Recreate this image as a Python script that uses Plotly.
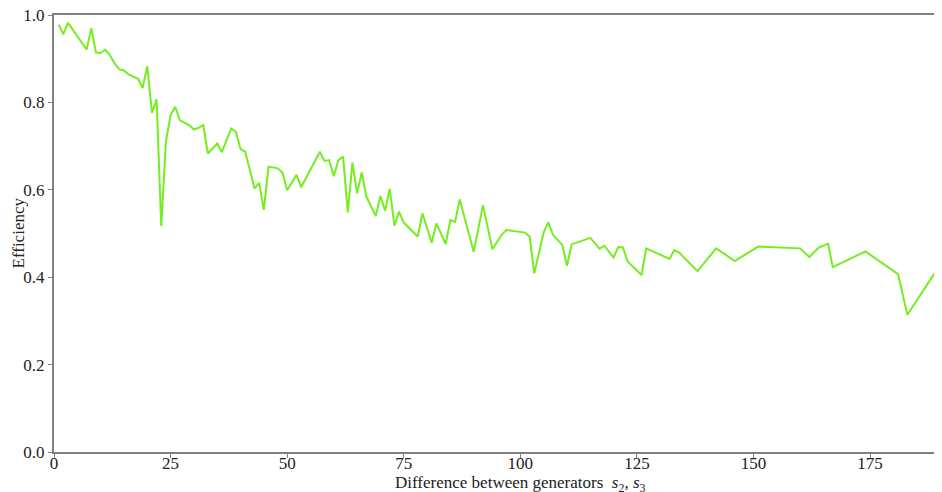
import plotly.graph_objects as go

diff = [1, 2, 3, 6, 7, 8, 9, 10, 11, 12, 13, 14, 15, 16, 18, 19, 20, 21, 22, 23,
        24, 25, 26, 27, 28, 29, 30, 31, 32, 33, 35, 36, 38, 39, 40, 41, 43, 44, 45, 46,
        48, 49, 50, 52, 53, 57, 58, 59, 60, 61, 62, 63, 64, 65, 66, 67, 69, 70, 71, 72,
        73, 74, 75, 78, 79, 81, 82, 84, 85, 86, 87, 90, 92, 94, 96, 97, 101, 102, 103, 105,
        106, 107, 109, 110, 111, 115, 117, 118, 120, 121, 122, 123, 126, 127, 132, 133, 134, 138, 142, 146,
        151, 160, 162, 164, 166, 167, 174, 181, 183, 190]
efficiency = [0.978, 0.956, 0.982, 0.935, 0.921, 0.970, 0.914, 0.913, 0.921, 0.908, 0.889, 0.876, 0.873, 0.864, 0.854, 0.833, 0.883, 0.776, 0.807, 0.517,
              0.710, 0.771, 0.790, 0.759, 0.754, 0.748, 0.738, 0.742, 0.748, 0.683, 0.706, 0.686, 0.740, 0.733, 0.693, 0.687, 0.603, 0.616, 0.554, 0.653,
              0.649, 0.639, 0.599, 0.634, 0.606, 0.687, 0.666, 0.668, 0.631, 0.668, 0.676, 0.548, 0.662, 0.592, 0.640, 0.584, 0.540, 0.586, 0.552, 0.602,
              0.518, 0.550, 0.525, 0.493, 0.546, 0.479, 0.523, 0.476, 0.531, 0.526, 0.578, 0.458, 0.565, 0.464, 0.497, 0.508, 0.502, 0.493, 0.409, 0.502,
              0.526, 0.497, 0.474, 0.426, 0.475, 0.490, 0.465, 0.472, 0.445, 0.469, 0.468, 0.436, 0.405, 0.466, 0.442, 0.462, 0.457, 0.414, 0.466, 0.437,
              0.470, 0.466, 0.446, 0.468, 0.477, 0.423, 0.459, 0.407, 0.314, 0.428]

x_ticks = [0, 25, 50, 75, 100, 125, 150, 175]
y_ticks = [0.0, 0.2, 0.4, 0.6, 0.8, 1.0]
x_title = "Difference between generators  <i>s</i><sub>2</sub>, <i>s</i><sub>3</sub>"
y_title = "Efficiency"

font_family = "Liberation Serif, Times New Roman, serif"

fig = go.Figure()
fig.add_trace(go.Scatter(x=diff, y=efficiency, mode="lines",
                         line=dict(color="#74EE1E", width=2), showlegend=False))

fig.update_layout(
    width=934, height=484,
    margin=dict(l=46, r=2, t=7, b=40),
    paper_bgcolor="white", plot_bgcolor="white",
    font=dict(family=font_family, size=17, color="#222222"),
    annotations=[
        dict(text=x_title, xref="paper", yref="paper", x=0.527, y=0,
             xanchor="center", yanchor="top", yshift=-19, showarrow=False,
             font=dict(size=17, family=font_family, color="#222222")),
        dict(text=y_title, xref="paper", yref="paper", x=0, y=0.5,
             xanchor="center", yanchor="middle", xshift=-36, textangle=-90, showarrow=False,
             font=dict(size=17, family=font_family, color="#222222")),
    ],
)
fig.update_xaxes(
    range=[0, 190], tickvals=x_ticks, ticktext=[str(v) for v in x_ticks],
    showgrid=False, zeroline=False, automargin=False,
    showline=True, linecolor="#808080", linewidth=2, mirror=True,
    ticks="outside", ticklen=4, tickcolor="#808080", tickwidth=1,
    ticklabelstandoff=-9, ticklabeloverflow="allow",
)
fig.update_yaxes(
    range=[0, 1], tickvals=y_ticks, ticktext=[f"{v:.1f}" for v in y_ticks],
    showgrid=False, zeroline=False, automargin=False,
    showline=True, linecolor="#808080", linewidth=2, mirror=False,
    ticks="outside", ticklen=4, tickcolor="#808080", tickwidth=1,
    ticklabeloverflow="allow",
)

fig.write_html("out.html")
